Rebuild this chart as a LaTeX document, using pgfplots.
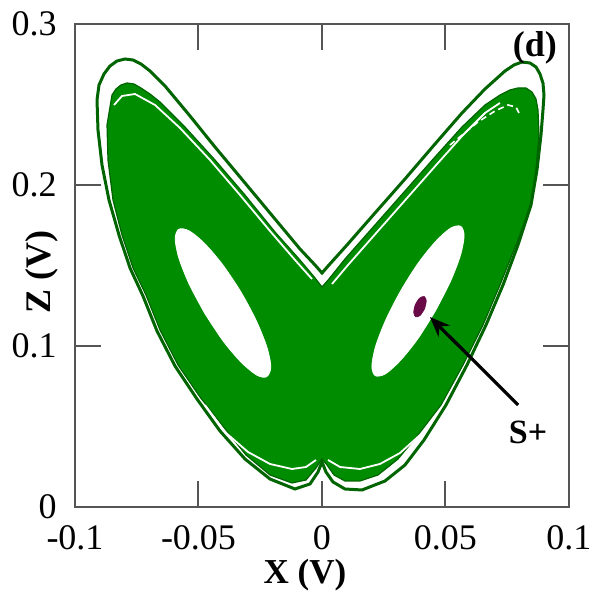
\documentclass[border=0pt]{standalone}
\usepackage{pgfplots}
\pgfplotsset{compat=1.18}
\usetikzlibrary{arrows.meta}
\usepackage{fontspec}
\setmainfont{Liberation Serif}
\definecolor{attr}{RGB}{0,140,0}
\definecolor{attrdark}{RGB}{0,100,0}
\definecolor{fixpt}{RGB}{105,10,70}
\definecolor{frame}{RGB}{85,85,85}

\begin{document}
\begin{tikzpicture}
\begin{axis}[
  name=ax,
  width=247pt, height=241.5pt, scale only axis,
  xmin=-0.1, xmax=0.1, ymin=0, ymax=0.3,
  xtick={-0.1,-0.05,0,0.05,0.1},
  xticklabels={-0.1,-0.05,0,0.05,0.1},
  ytick={0,0.1,0.2,0.3},
  yticklabels={0,0.1,0.2,0.3},
  tick align=inside,
  major tick length=13pt,
  every tick/.style={frame, line width=1pt},
  axis line style={frame, line width=1.2pt},
  ticklabel style={font=\fontsize{18}{20}\selectfont, inner sep=1pt},
  xticklabel style={yshift=-8pt},
  yticklabel style={xshift=-8pt},
  clip=false,
]
% chaotic attractor: main body
\addplot[fill=attr, draw=attrdark, line width=0.6pt] coordinates {
(-0.08138,0.26211) (-0.07895,0.26335) (-0.07611,0.26273) (-0.07328,0.26025)
(-0.06964,0.25652) (-0.06559,0.25155) (-0.05547,0.23602)
(-0.04332,0.21553) (-0.03117,0.19379) (-0.01903,0.17081) (-0.00891,0.15342)
(-0.00283,0.14224) (0,0.13665) (0.00283,0.14161) (0.00931,0.15404)
(0.02146,0.17516) (0.03360,0.19627) (0.04575,0.21739) (0.05668,0.23602)
(0.06599,0.24969) (0.07206,0.25590) (0.07611,0.25901) (0.07935,0.26025)
(0.08259,0.26025) (0.08502,0.25776) (0.08664,0.25342) (0.08745,0.24658)
(0.08785,0.23106) (0.08664,0.20932) (0.08462,0.18758)
(0.07854,0.16273) (0.07206,0.13789) (0.06518,0.11304) (0.05709,0.08820)
(0.04818,0.06335) (0.03887,0.04472) (0.03077,0.02981) (0.02267,0.01988)
(0.01538,0.01615) (0.00931,0.01615) (0.00486,0.01988) (0.00202,0.02609)
(0,0.02981) (-0.00243,0.02422) (-0.00648,0.01677) (-0.01215,0.01491)
(-0.02105,0.01988) (-0.03077,0.03230) (-0.04049,0.05093) (-0.04939,0.06832)
(-0.05830,0.08820) (-0.06559,0.10994) (-0.07126,0.13168) (-0.07652,0.14845)
(-0.08097,0.16894) (-0.08462,0.19068) (-0.08664,0.21553) (-0.08704,0.23727)
(-0.08502,0.25590) (-0.08340,0.25963)
} -- cycle;
% outermost orbit
\addplot[draw=attrdark, line width=1.5pt] coordinates {
(-0.08300,0.27702) (-0.07976,0.27826) (-0.07652,0.27764) (-0.07328,0.27516)
(-0.06964,0.27081) (-0.06356,0.26149)
(-0.05344,0.24286) (-0.04332,0.22360) (-0.03117,0.20124) (-0.01903,0.17888)
(-0.00891,0.16025) (-0.00283,0.15031) (0,0.14534) (0.00283,0.15031)
(0.01012,0.16273) (0.02146,0.18261) (0.03360,0.20373) (0.04575,0.22547)
(0.05668,0.24472) (0.06599,0.25963) (0.07004,0.26522) (0.07409,0.27081)
(0.07773,0.27453) (0.08097,0.27640) (0.08421,0.27578) (0.08664,0.27329)
(0.08826,0.26894) (0.08947,0.26335) (0.08988,0.25590) (0.08947,0.24658)
(0.08866,0.23106) (0.08704,0.20932) (0.08462,0.18758) (0.07935,0.16273)
(0.07328,0.13789) (0.06640,0.11304) (0.05870,0.08820) (0.05020,0.06335)
(0.04130,0.04161) (0.03360,0.02609) (0.02551,0.01615) (0.01619,0.01056)
(0.00931,0.01118) (0.00445,0.01553) (0.00162,0.02174) (0,0.02795)
(-0.00162,0.02174) (-0.00486,0.01429) (-0.01093,0.01118) (-0.02105,0.01739)
(-0.03117,0.02981) (-0.04130,0.04720) (-0.05061,0.06708) (-0.05951,0.08758)
(-0.06680,0.10932) (-0.07247,0.13106) (-0.07773,0.14845) (-0.08219,0.16894)
(-0.08623,0.19068) (-0.08907,0.21242) (-0.09069,0.23416) (-0.09109,0.25280)
(-0.09028,0.26211) (-0.08826,0.26894) (-0.08583,0.27391)
} -- cycle;
% thin gaps inside the body
\addplot[draw=white, line width=0.9pt] coordinates {
(-0.08421,0.24969) (-0.08097,0.25528) (-0.07571,0.25652) (-0.06761,0.24969)
(-0.05749,0.23540) (-0.04534,0.21553) (-0.03320,0.19379) (-0.02105,0.17143)
(-0.01093,0.15342) (-0.00405,0.14161)
};
\addplot[draw=white, line width=0.9pt] coordinates {
(0.00405,0.13851) (0.01053,0.15031) (0.02267,0.17143) (0.03482,0.19255)
(0.04696,0.21366) (0.05709,0.23106) (0.06599,0.24472) (0.07206,0.25093)
};
\addplot[draw=white, line width=0.8pt, dash pattern=on 3pt off 2pt] coordinates {
(0.05182,0.22484) (0.06316,0.23913) (0.07004,0.24596) (0.07530,0.24969)
(0.07854,0.24845) (0.07976,0.24472)
};
\addplot[draw=white, line width=0.9pt] coordinates {
(-0.04737,0.06335) (-0.03927,0.04658) (-0.02996,0.03416) (-0.02105,0.02671)
(-0.01215,0.02360) (-0.00648,0.02484) (-0.00243,0.02919)
};
\addplot[draw=white, line width=0.9pt] coordinates {
(0.00243,0.02919) (0.00729,0.02484) (0.01538,0.02360) (0.02348,0.02671)
(0.03158,0.03354) (0.03968,0.04472)
};
% holes around the two unstable foci
\addplot[fill=white, draw=white, smooth] coordinates {
(-0.04737,0.12000) (-0.05364,0.13801) (-0.05789,0.15435) (-0.05943,0.16646)
(-0.05802,0.17248) (-0.05385,0.17155) (-0.04761,0.16379) (-0.04020,0.15043)
(-0.03279,0.13342) (-0.02652,0.11540) (-0.02227,0.09907) (-0.02073,0.08696)
(-0.02239,0.08093) (-0.02632,0.08186) (-0.03255,0.08963) (-0.03996,0.10298)
(-0.04737,0.12000)
} -- cycle;
\addplot[fill=white, draw=white, smooth] coordinates {
(0.04591,0.12180) (0.03879,0.10447) (0.03162,0.09081) (0.02563,0.08267)
(0.02158,0.08155) (0.02020,0.08739) (0.02166,0.09950) (0.02575,0.11590)
(0.03182,0.13410) (0.03895,0.15143) (0.04611,0.16509) (0.05211,0.17323)
(0.05615,0.17435) (0.05753,0.16851) (0.05607,0.15640) (0.05198,0.14000)
(0.04591,0.12180)
} -- cycle;
% stable state S+
\addplot[fill=fixpt, draw=fixpt, smooth] coordinates {
(0.04154,0.12323) (0.03980,0.11913) (0.03798,0.11814) (0.03717,0.12081)
(0.03781,0.12559) (0.03955,0.12969) (0.04138,0.13068) (0.04219,0.12801)
(0.04154,0.12323)
} -- cycle;
\draw[-{Stealth[length=10pt,width=8pt]}, line width=1.6pt]
  (axis cs:0.0794,0.0634) -- (axis cs:0.0437,0.1180);
\node[font=\fontsize{17}{20}\selectfont\bfseries] at (axis cs:0.0834,0.0466) {S+};
\node[font=\fontsize{18}{20}\selectfont\bfseries] at (axis cs:0.0862,0.2851) {(d)};
\end{axis}
\node[font=\fontsize{17.5}{20}\selectfont\bfseries, anchor=base, inner sep=0pt]
  at ([xshift=115pt,yshift=-38.5pt]ax.south west) {X (V)};
\node[font=\fontsize{18}{20}\selectfont\bfseries, anchor=base, rotate=90, inner sep=0pt]
  at ([xshift=-12.5pt,yshift=117.5pt]ax.south west) {Z (V)};
\pgfresetboundingbox
\path[use as bounding box] ([shift={(-37.5pt,-42.5pt)}]ax.south west) rectangle ++(297.5pt,296pt);
\end{tikzpicture}
\end{document}
